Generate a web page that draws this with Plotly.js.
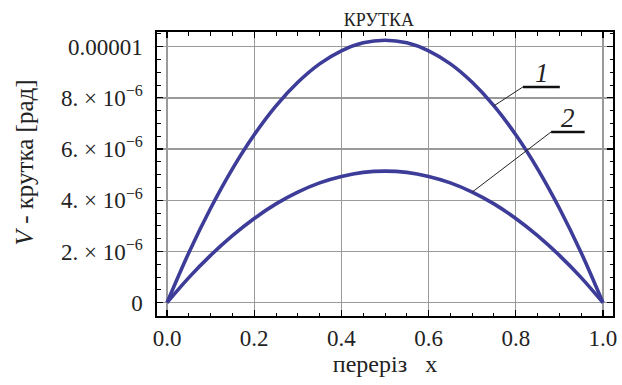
<!DOCTYPE html>
<html>
<head>
<meta charset="utf-8">
<script src="https://cdn.plot.ly/plotly-3.0.1.min.js"></script>
<style>html,body{margin:0;padding:0;background:#fff;}#chart{width:622px;height:385px;}</style>
</head>
<body>
<div id="chart"></div>
<script>
// Section coordinate x
var xSection = [0, 0.05, 0.1, 0.15, 0.2, 0.25, 0.3, 0.35, 0.4, 0.45, 0.5, 0.55, 0.6, 0.65, 0.7, 0.75, 0.8, 0.85, 0.9, 0.95, 1.0];
// Curve 1 twist (rad)
var twist1 = [0, 1.95e-6, 3.69e-6, 5.23e-6, 6.56e-6, 7.69e-6, 8.61e-6, 9.33e-6, 9.84e-6, 10.15e-6, 10.25e-6, 10.15e-6, 9.84e-6, 9.33e-6, 8.61e-6, 7.69e-6, 6.56e-6, 5.23e-6, 3.69e-6, 1.95e-6, 0];
// Curve 2 twist (rad)
var twist2 = [0, 0.98e-6, 1.85e-6, 2.62e-6, 3.29e-6, 3.86e-6, 4.32e-6, 4.68e-6, 4.93e-6, 5.09e-6, 5.14e-6, 5.09e-6, 4.93e-6, 4.68e-6, 4.32e-6, 3.86e-6, 3.29e-6, 2.62e-6, 1.85e-6, 0.98e-6, 0];
// Tick labels
var xTickVals = [0, 0.2, 0.4, 0.6, 0.8, 1.0];
var xTickText = ['0.0', '0.2', '0.4', '0.6', '0.8', '1.0'];
var yTickVals = [0, 2e-6, 4e-6, 6e-6, 8e-6, 1e-5];
var yTickText = ['0', '2. \u00d7 10<sup>\u22126</sup>', '4. \u00d7 10<sup>\u22126</sup>', '6. \u00d7 10<sup>\u22126</sup>', '8. \u00d7 10<sup>\u22126</sup>', '0.00001'];
var curveLabels = ['1', '2'];

var lineColor = '#3d3d99';
var serif = "'Liberation Serif', 'Times New Roman', Times, serif";
var textColor = '#222';

var traces = [
  {x: xSection, y: twist1, mode: 'lines', line: {color: lineColor, width: 3.6, shape: 'spline'}, hoverinfo: 'none'},
  {x: xSection, y: twist2, mode: 'lines', line: {color: lineColor, width: 3.6, shape: 'spline'}, hoverinfo: 'none'}
];

// leader anchors on curves (from data)
var i1 = 15, i2 = 14;
var lab1 = {x0: 0.8165, x1: 0.901, y: 8.43e-6};
var lab2 = {x0: 0.881, x1: 0.958, y: 6.67e-6};

var shapes = [
  {type: 'line', xref: 'x', yref: 'y', x0: xSection[i1], y0: twist1[i1], x1: lab1.x0, y1: lab1.y, line: {color: '#222', width: 1}},
  {type: 'line', xref: 'x', yref: 'y', x0: lab1.x0, y0: lab1.y, x1: lab1.x1, y1: lab1.y, line: {color: '#111', width: 2.5}},
  {type: 'line', xref: 'x', yref: 'y', x0: xSection[i2], y0: twist2[i2], x1: lab2.x0, y1: lab2.y, line: {color: '#222', width: 1}},
  {type: 'line', xref: 'x', yref: 'y', x0: lab2.x0, y0: lab2.y, x1: lab2.x1, y1: lab2.y, line: {color: '#111', width: 2.5}}
];

var annotations = [
  {xref: 'x', yref: 'y', x: 0.86, y: lab1.y, yanchor: 'bottom', xanchor: 'center', yshift: -3, text: '<i>' + curveLabels[0] + '</i>', showarrow: false, font: {family: serif, size: 27, color: textColor}},
  {xref: 'x', yref: 'y', x: 0.92, y: lab2.y, yanchor: 'bottom', xanchor: 'center', yshift: -3, text: '<i>' + curveLabels[1] + '</i>', showarrow: false, font: {family: serif, size: 27, color: textColor}},
  {xref: 'paper', yref: 'paper', x: -0.29, y: 0.54, xanchor: 'center', yanchor: 'middle', textangle: -90, text: '<i>V</i> - крутка [рад]', showarrow: false, font: {family: serif, size: 25, color: textColor}}
];

var layout = {
  width: 622, height: 385,
  margin: {l: 157, r: 9, t: 32, b: 69, pad: 0},
  paper_bgcolor: '#fff', plot_bgcolor: '#fff',
  showlegend: false,
  title: {text: 'КРУТКА', font: {family: serif, size: 18, color: textColor}, x: 0.609, xanchor: 'center', y: 0.95, yanchor: 'middle'},
  xaxis: {
    range: [-0.023, 1.023], tickmode: 'array', tickvals: xTickVals, ticktext: xTickText,
    ticks: 'inside', ticklen: 6, tickwidth: 1.2, tickcolor: '#000',
    minor: {dtick: 0.05, tick0: 0, ticks: 'inside', ticklen: 3.5, tickwidth: 1, tickcolor: '#000', showgrid: false},
    showgrid: true, gridcolor: '#9a9a9a', gridwidth: 1.3, zeroline: false,
    showline: true, linecolor: '#000', linewidth: 1.6, mirror: 'allticks',
    tickfont: {family: serif, size: 23, color: textColor}, ticklabelstandoff: 1,
    title: {text: 'переріз &nbsp; x', font: {family: serif, size: 24, color: textColor}, standoff: 4}
  },
  yaxis: {
    range: [-0.52e-6, 1.0574e-5], tickmode: 'array', tickvals: yTickVals, ticktext: yTickText,
    ticks: 'inside', ticklen: 6, tickwidth: 1.2, tickcolor: '#000',
    minor: {dtick: 0.5e-6, tick0: 0, ticks: 'inside', ticklen: 3.5, tickwidth: 1, tickcolor: '#000', showgrid: false},
    showgrid: true, gridcolor: '#9a9a9a', gridwidth: 1.3, zeroline: false,
    showline: true, linecolor: '#000', linewidth: 1.6, mirror: 'allticks',
    tickfont: {family: serif, size: 23, color: textColor}, ticklabelstandoff: 8
  },
  shapes: shapes,
  annotations: annotations
};

Plotly.newPlot('chart', traces, layout, {displayModeBar: false, staticPlot: true});
</script>
</body>
</html>
